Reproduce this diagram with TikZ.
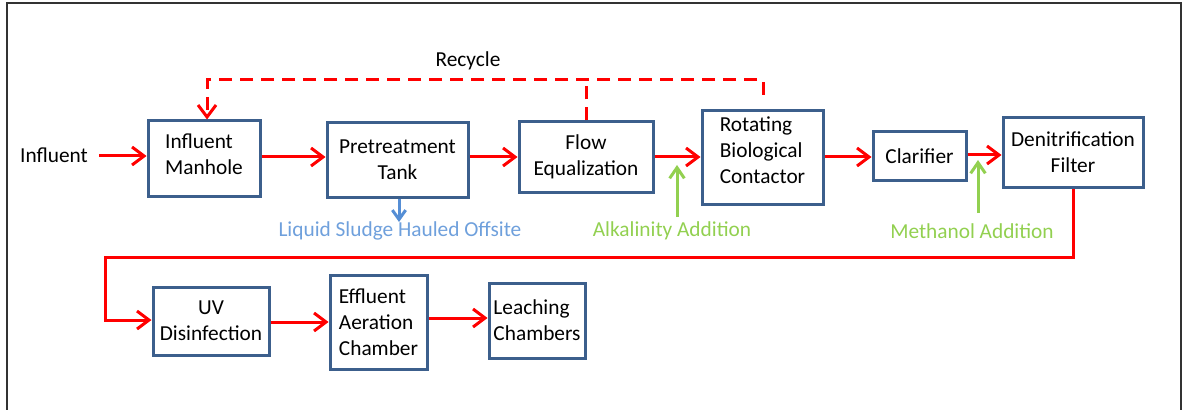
\documentclass[tikz,border=0pt]{standalone}
\usepackage{fontspec}
\setmainfont{Carlito}
\usetikzlibrary{arrows.meta,calc}
\definecolor{boxblue}{HTML}{3C5F8C}
\definecolor{flowred}{HTML}{FF0000}
\definecolor{addgreen}{HTML}{92D050}
\definecolor{sludgeblue}{HTML}{558ED5}
\definecolor{sludgetext}{HTML}{6FA0DC}
\definecolor{framegray}{HTML}{333333}
\begin{document}
\begin{tikzpicture}[x=0.75pt,y=-0.75pt,
  every node/.style={font=\fontsize{16}{19.5}\selectfont, inner sep=0pt},
  stepbox/.style={draw=boxblue, line width=2.25pt, fill=white, align=center},
  leftbox/.style={stepbox, align=left},
  flowline/.style={draw=flowred, line width=2.25pt},
  flowarrow/.style={flowline, -{Straight Barb[length=9pt,width=13.5pt,line width=2.25pt]}},
  recycleline/.style={flowline, dash pattern=on 9.75pt off 6pt},
  greenarrow/.style={draw=addgreen, line width=2.25pt, -{Straight Barb[length=8pt,width=11pt,line width=2.25pt]}},
  bluearrow/.style={draw=sludgeblue, line width=2.25pt, -{Straight Barb[length=7pt,width=10pt,line width=2.25pt]}},
  lbl/.style={inner sep=1pt}
]
\useasboundingbox (0,0) rectangle (1183,410);
% frame
\draw[framegray, line width=1.2pt] (7,412) -- (7,3) -- (1181,3) -- (1181,412);

% boxes
\node[leftbox, minimum width=84pt, minimum height=56.25pt, text depth=7pt] (manhole) at (204,158.5) {Influent\\Manhole};
\node[stepbox, minimum width=105.75pt, minimum height=55.5pt] (pre) at (397.5,160) {Pretreatment\\Tank};
\node[stepbox, minimum width=100.5pt, minimum height=52.5pt] (flow) at (586,157) {Flow\\Equalization};
\node[leftbox, minimum width=90.75pt, minimum height=69.75pt, text depth=11.5pt] (rbc) at (762.5,157.5) {Rotating\\Biological\\Contactor};
\node[stepbox, minimum width=69.75pt, minimum height=36pt] (clar) at (919.5,156) {Clarifier};
\node[stepbox, minimum width=105pt, minimum height=51.75pt] (denit) at (1073,152.5) {Denitrification\\Filter};
\node[stepbox, minimum width=87pt, minimum height=51pt] (uv) at (211,321) {UV\\Disinfection};
\node[leftbox, minimum width=72.75pt, minimum height=70.5pt] (eff) at (378.5,322) {Effluent\\Aeration\\Chamber};
\node[leftbox, minimum width=72pt, minimum height=56.25pt] (leach) at (537,320.5) {Leaching\\Chambers};

% texts
\node[lbl] (infl) at (54,155) {Influent};
\node[lbl] (recyc) at (468,61) {Recycle};
\node[lbl, text=sludgetext] (sludge) at (400,231) {Liquid Sludge Hauled Offsite};
\node[lbl, text=addgreen] (alk) at (672,231) {Alkalinity Addition};
\node[lbl, text=addgreen] (meth) at (972,231) {Methanol Addition};

% main flow
\draw[flowarrow] ($(infl.east)+(10,1)$) -- (manhole.west |- {$(infl.east)+(10,1)$});
\draw[flowarrow] (manhole.east |- 0,157) -- (pre.west |- 0,157);
\draw[flowarrow] (pre.east |- 0,157) -- (flow.west |- 0,157);
\draw[flowarrow] (flow.east |- 0,157) -- (rbc.west |- 0,157);
\draw[flowarrow] (rbc.east |- 0,157) -- (clar.west |- 0,157);
\draw[flowarrow] (clar.east |- 0,155) -- (denit.west |- 0,155);
\draw[flowarrow] (denit.south) -- (1073,257) -- (105,257) -- (105,320) -- (uv.west |- 0,320);
\draw[flowarrow] (uv.east |- 0,322) -- (eff.west |- 0,322);
\draw[flowarrow] (eff.east |- 0,318) -- (leach.west |- 0,318);

% recycle
\coordinate (recR) at (763,95);
\draw[recycleline, -{Straight Barb[length=9pt,width=13.5pt,line width=2.25pt]}]
  (recR) -- (763,80) -- (207,80) -- (manhole.north -| 207,0);
\draw[recycleline] (flow.north) -- (flow.north |- 0,80);

% additions
\coordinate (alkS) at (677,217);
\coordinate (alkT) at (677,165);
\draw[greenarrow] (alkS) -- (alkT);
\coordinate (methS) at (978,213);
\coordinate (methT) at (978,160);
\draw[greenarrow] (methS) -- (methT);
\coordinate (sludgeT) at (399,222);
\draw[bluearrow] (pre.south -| sludgeT) -- (sludgeT);
\end{tikzpicture}
\end{document}
